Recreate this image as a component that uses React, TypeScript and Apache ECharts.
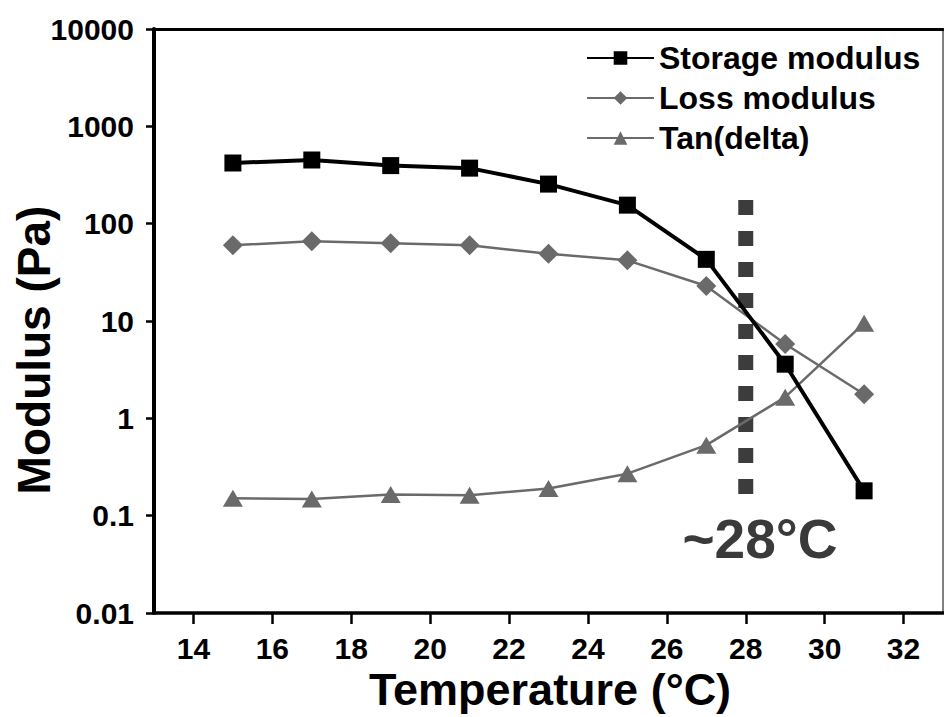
import React, { useEffect, useRef } from "react";
import * as echarts from "echarts";

const temps = [15, 17, 19, 21, 23, 25, 27, 29, 31];
const storage = [420, 451, 395, 372, 255, 155, 43, 3.6, 0.18];
const loss = [60, 66, 63, 60, 49, 42, 22.9, 5.8, 1.77];
const tanDelta = [0.151, 0.148, 0.165, 0.162, 0.19, 0.27, 0.53, 1.65, 9.5];
const xTicks = [14, 16, 18, 20, 22, 24, 26, 28, 30, 32];
const transitionX = 28;
const transitionRange = [175, 0.163];
const seriesNames = ["Storage modulus", "Loss modulus", "Tan(delta)"];

const FONT = 'Arial, "Liberation Sans", "Helvetica", sans-serif';

export default function App() {
  const ref = useRef<HTMLDivElement>(null);
  useEffect(() => {
    if (!ref.current) return;
    const chart = echarts.init(ref.current, null, { renderer: "svg" });
    const fmtLog = (v: number) => {
      const e = Math.round(Math.log10(v));
      return e >= 0 ? String(Math.pow(10, e)) : "0." + "0".repeat(-e - 1) + "1";
    };
    const gray = "#6a6a6a";
    chart.setOption({
      animation: false,
      backgroundColor: "#fff",
      textStyle: { fontFamily: FONT },
      grid: {
        left: 154,
        right: 1,
        top: 29,
        bottom: 104,
        show: true,
        borderColor: "#000",
        borderWidth: 1,
        containLabel: false,
      },
      legend: {
        data: seriesNames,
        orient: "vertical",
        left: 581,
        top: 37,
        itemWidth: 67,
        itemHeight: 17,
        itemGap: 8,
        textStyle: { fontSize: 32, fontWeight: "bold", color: "#000", fontFamily: FONT },
      },
      xAxis: [
        {
          type: "value",
          min: 13,
          max: 33,
          splitLine: { show: false },
          axisLine: { lineStyle: { color: "#000", width: 3.5 } },
          axisTick: { show: true, length: 11, lineStyle: { width: 2.5, color: "#000" }, customValues: xTicks },
          axisLabel: {
            customValues: xTicks,
            fontSize: 30,
            fontWeight: "bold",
            color: "#000",
            margin: 20,
            fontFamily: FONT,
          },
        },
        {
          type: "value",
          position: "top",
          min: 13,
          max: 33,
          splitLine: { show: false },
          axisLine: { show: true, lineStyle: { color: "#000", width: 3 } },
          axisTick: { show: false },
          axisLabel: { show: false },
        },
      ],
      yAxis: {
        type: "log",
        logBase: 10,
        min: 0.01,
        max: 10000,
        splitLine: { show: false },
        axisLine: { show: true, lineStyle: { color: "#000", width: 4 } },
        axisTick: { show: true, length: 8, lineStyle: { width: 2.5, color: "#000" } },
        minorTick: { show: false },
        axisLabel: {
          formatter: fmtLog,
          fontSize: 30,
          fontWeight: "bold",
          color: "#000",
          margin: 20,
          fontFamily: FONT,
        },
      },
      graphic: [
        {
          type: "text",
          x: 34,
          y: 350,
          rotation: Math.PI / 2,
          style: {
            text: "Modulus (Pa)",
            font: `bold 46px ${FONT}`,
            fill: "#000",
            textAlign: "center",
            textVerticalAlign: "middle",
          },
        },
        {
          type: "text",
          x: 550,
          y: 689,
          style: {
            text: "Temperature (°C)",
            font: `bold 45px ${FONT}`,
            fill: "#000",
            textAlign: "center",
            textVerticalAlign: "middle",
          },
        },
        {
          type: "text",
          x: 760,
          y: 539,
          style: {
            text: "~28°C",
            font: `bold 55px ${FONT}`,
            fill: "#3a3a3a",
            textAlign: "center",
            textVerticalAlign: "middle",
          },
        },
      ],
      series: [
        {
          name: "transition",
          type: "line",
          silent: true,
          symbol: "none",
          data: transitionRange.map((v) => [transitionX, v]),
          lineStyle: { color: "#3c3c3c", width: 15, type: [15, 16], cap: "butt" },
          z: 1,
        },
        {
          name: seriesNames[0],
          type: "line",
          data: temps.map((t, i) => [t, storage[i]]),
          symbol: "rect",
          symbolSize: 17,
          itemStyle: { color: "#000" },
          lineStyle: { color: "#000", width: 4 },
          z: 4,
        },
        {
          name: seriesNames[1],
          type: "line",
          data: temps.map((t, i) => [t, loss[i]]),
          symbol: "diamond",
          symbolSize: 20,
          itemStyle: { color: gray },
          lineStyle: { color: gray, width: 2.5 },
          z: 3,
        },
        {
          name: seriesNames[2],
          type: "line",
          data: temps.map((t, i) => [t, tanDelta[i]]),
          symbol: "triangle",
          symbolSize: [20, 17],
          itemStyle: { color: gray },
          lineStyle: { color: gray, width: 2.5 },
          z: 3,
        },
      ],
    });
    return () => chart.dispose();
  }, []);
  return <div ref={ref} style={{ width: 944, height: 717, position: "absolute", left: 0, top: 0 }} />;
}
